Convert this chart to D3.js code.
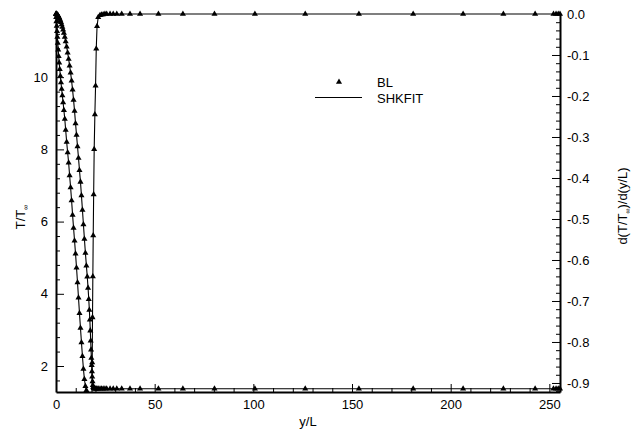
<!DOCTYPE html>
<html>
<head>
<meta charset="utf-8">
<script src="https://cdn.jsdelivr.net/npm/d3@7"></script>
<style>
  html, body { margin: 0; padding: 0; background: #fff; }
  svg { display: block; font-family: "Liberation Sans", Arial, Helvetica, sans-serif; }
  .axis text { font-size: 13px; fill: #000; font-family: "Liberation Sans", Arial, sans-serif; }
  .axis .domain { stroke: #000; stroke-width: 2; }
  .axis .tick line { stroke: #000; stroke-width: 1; }
</style>
</head>
<body>
<svg id="chart" width="638" height="432"></svg>
<script>
// ---- data ----
const yL = [0, 0.1, 0.22, 0.36, 0.52, 0.7, 0.9, 1.12, 1.36, 1.62,
  1.9, 2.2, 2.52, 2.86, 3.22, 3.6, 4.0, 4.45, 4.9, 5.4,
  5.9, 6.4, 6.9, 7.4, 7.9, 8.4, 8.9, 9.4, 9.9, 10.4,
  10.9, 11.4, 11.9, 12.4, 12.9, 13.4, 13.9, 14.4, 14.9, 15.4,
  15.85, 16.25, 16.6, 16.9, 17.15, 17.38, 17.58, 17.76, 17.92, 18.07,
  18.21, 18.35, 18.5, 18.67, 18.86, 19.08, 19.35, 19.7, 20.05, 20.4,
  20.8, 21.4, 22.3, 23.1, 23.9, 24.8, 25.7, 27.4, 29.0, 30.8,
  33.3, 37.5, 42.6, 51.9, 64.3, 80.3, 100.8, 126.3, 153.5, 181.0,
  206.3, 226.7, 242.8, 252.1, 253.4, 254.5, 255.4];

// T/T_inf (left axis)
const tempRatio = [11.75, 11.75, 11.748, 11.745, 11.739, 11.73, 11.718, 11.70, 11.677, 11.648,
  11.613, 11.57, 11.519, 11.46, 11.391, 11.312, 11.222, 11.111, 10.99, 10.841,
  10.679, 10.503, 10.314, 10.12, 9.90, 9.65, 9.37, 9.06, 8.72, 8.40,
  8.08, 7.76, 7.42, 7.10, 6.72, 6.32, 5.92, 5.52, 5.13, 4.78,
  4.47, 4.16, 3.85, 3.55, 3.28, 2.98, 2.70, 2.45, 2.22, 2.02,
  1.85, 1.70, 1.57, 1.47, 1.41, 1.385, 1.375, 1.372, 1.371, 1.37,
  1.37, 1.37, 1.37, 1.37, 1.37, 1.37, 1.37, 1.37, 1.37, 1.37,
  1.37, 1.37, 1.37, 1.37, 1.37, 1.37, 1.37, 1.37, 1.37, 1.37,
  1.37, 1.37, 1.37, 1.37, 1.37, 1.37, 1.37];

// d(T/T_inf)/d(y/L) (right axis)
const dTdy = [0, -0.008, -0.018, -0.029, -0.042, -0.056, -0.071, -0.087, -0.103, -0.119,
  -0.135, -0.151, -0.167, -0.183, -0.199, -0.216, -0.235, -0.256, -0.283, -0.312,
  -0.338, -0.363, -0.394, -0.423, -0.455, -0.49, -0.522, -0.553, -0.585, -0.619,
  -0.655, -0.692, -0.73, -0.766, -0.801, -0.835, -0.866, -0.891, -0.908, -0.918,
  -0.96, -1.02, -1.10, -1.18, -1.24, -1.28, -1.29, -1.25, -1.15, -1.05,
  -0.95, -0.85, -0.74, -0.64, -0.54, -0.44, -0.33, -0.245, -0.175, -0.085,
  -0.03, -0.008, -0.003, -0.002, -0.001, 0, 0, 0, 0, 0,
  0, 0, 0, 0, 0, 0, 0, 0, 0, 0,
  0, 0, 0, 0, 0, 0, 0];

const xTicks = [0, 50, 100, 150, 200, 250];
const tTicks = [2, 4, 6, 8, 10];
const dTicks = [0, -0.1, -0.2, -0.3, -0.4, -0.5, -0.6, -0.7, -0.8, -0.9];
const legendLabels = ["BL", "SHKFIT"];

// ---- layout ----
const L = 56, R = 560, TOP = 14, B = 392;
const svg = d3.select("#chart");

const x = d3.scaleLinear().domain([0, 255.4]).range([L, R]);
const yT = d3.scaleLinear().domain([1.28, 11.75]).range([B, TOP]);
const yD = d3.scaleLinear().domain([-0.922, 0]).range([B, TOP]);

// minor ticks
const xMinor = d3.range(10, 256, 10).filter(v => v % 50 !== 0);
const tMinor = d3.range(1.6, 11.75, 0.4).map(v => +v.toFixed(1)).filter(v => Math.abs(v / 2 - Math.round(v / 2)) > 1e-6);
const dMinor = d3.range(0, -0.922, -0.02).map(v => +v.toFixed(2)).filter(v => Math.abs(v * 10 - Math.round(v * 10)) > 1e-6);

// axes
svg.append("g").attr("class", "axis").attr("transform", `translate(0,${B})`)
  .call(d3.axisBottom(x).tickValues(xMinor).tickFormat("").tickSizeInner(-4).tickSizeOuter(0))
  .select(".domain").remove();
svg.append("g").attr("class", "axis").attr("transform", `translate(0,${B})`)
  .call(d3.axisBottom(x).tickValues(xTicks).tickFormat(d3.format("d")).tickSizeInner(-8).tickSizeOuter(0).tickPadding(8));

svg.append("g").attr("class", "axis").attr("transform", `translate(${L},0)`)
  .call(d3.axisLeft(yT).tickValues(tMinor).tickFormat("").tickSizeInner(-4).tickSizeOuter(0))
  .select(".domain").remove();
svg.append("g").attr("class", "axis").attr("transform", `translate(${L},0)`)
  .call(d3.axisLeft(yT).tickValues(tTicks).tickFormat(d3.format("d")).tickSizeInner(-8).tickSizeOuter(0).tickPadding(8));

svg.append("g").attr("class", "axis").attr("transform", `translate(${R},0)`)
  .call(d3.axisRight(yD).tickValues(dMinor).tickFormat("").tickSizeInner(-4).tickSizeOuter(0))
  .select(".domain").remove();
svg.append("g").attr("class", "axis").attr("transform", `translate(${R},0)`)
  .call(d3.axisRight(yD).tickValues(dTicks).tickFormat(v => v.toFixed(1).replace("-0.0", "0.0")).tickSizeInner(-8).tickSizeOuter(0).tickPadding(7));

// clip
svg.append("defs").append("clipPath").attr("id", "plotclip")
  .append("rect").attr("x", L - 6).attr("y", 0).attr("width", R - L + 12).attr("height", B);

const plot = svg.append("g").attr("clip-path", "url(#plotclip)");

const ptsT = yL.map((v, i) => [v, tempRatio[i]]);
const ptsD = yL.map((v, i) => [v, dTdy[i]]);

const lineT = d3.line().x(d => x(d[0])).y(d => yT(d[1]));
const lineD = d3.line().x(d => x(d[0])).y(d => yD(d[1]));

plot.append("path").datum(ptsT).attr("d", lineT).attr("fill", "none").attr("stroke", "#000").attr("stroke-width", 1.1);
plot.append("path").datum(ptsD).attr("d", lineD).attr("fill", "none").attr("stroke", "#000").attr("stroke-width", 1.1);

const tri = d3.symbol().type(d3.symbolTriangle).size(16);
plot.selectAll("path.mt").data(ptsT).join("path").attr("class", "mt")
  .attr("d", tri).attr("fill", "#000")
  .attr("transform", d => `translate(${x(d[0])},${yT(d[1])})`);
plot.selectAll("path.md").data(ptsD).join("path").attr("class", "md")
  .attr("d", tri).attr("fill", "#000")
  .attr("transform", d => `translate(${x(d[0])},${yD(d[1])})`);

// axis titles
svg.append("text").attr("x", 308).attr("y", 426).attr("text-anchor", "middle")
  .attr("font-size", 13).text("y/L");

const lt = svg.append("text").attr("transform", "translate(25,217) rotate(-90)")
  .attr("text-anchor", "middle").attr("font-size", 13);
lt.append("tspan").text("T/T");
lt.append("tspan").attr("font-size", 7).attr("dy", 3).text("∞");

const rt = svg.append("text").attr("transform", "translate(627,206) rotate(-90)")
  .attr("text-anchor", "middle").attr("font-size", 13);
rt.append("tspan").text("d(T/T");
rt.append("tspan").attr("font-size", 7).attr("dy", 3).text("∞");
rt.append("tspan").attr("dy", -3).text(")/d(y/L)");

// legend
svg.append("path").attr("d", tri).attr("fill", "#000").attr("transform", "translate(339,82)");
svg.append("text").attr("x", 377).attr("y", 86.5).attr("font-size", 13).text(legendLabels[0]);
svg.append("line").attr("x1", 315).attr("x2", 362).attr("y1", 97.5).attr("y2", 97.5)
  .attr("stroke", "#000").attr("stroke-width", 1);
svg.append("text").attr("x", 377).attr("y", 103).attr("font-size", 13).text(legendLabels[1]);
</script>
</body>
</html>
